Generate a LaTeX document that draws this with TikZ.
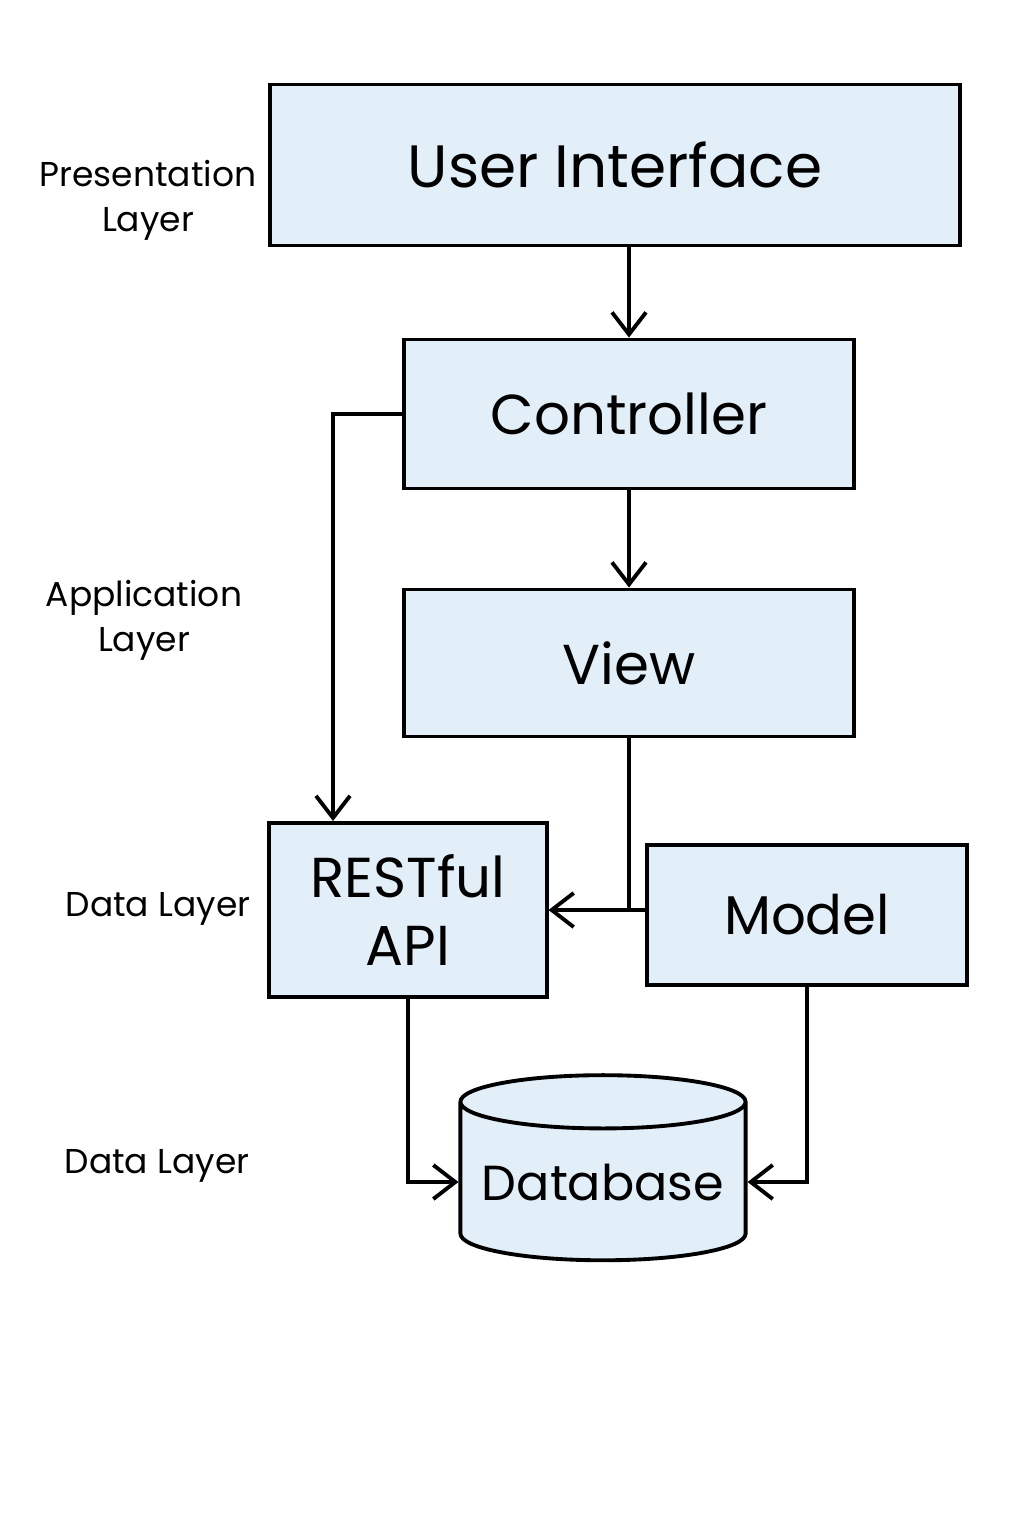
\documentclass[tikz,border=0pt]{standalone}
\usepackage{fontspec}
\setmainfont{Poppins}
\usepackage{tikz}
\definecolor{blue050}{HTML}{E2EEF8}
\usetikzlibrary{arrows.meta,shapes.geometric}
\tikzstyle{caixa}=[rectangle, draw=black, fill=blue050, line width=1.1pt, font=\fontsize{16}{19.5}\selectfont, align=center]
\tikzstyle{cilindro}=[cylinder, shape border rotate=90, aspect=0.22, draw=black, fill=blue050, line width=1.1pt, inner xsep=0pt, font=\fontsize{14}{17}\selectfont]
\tikzstyle{camada}=[font=\fontsize{9.8}{12.8}\selectfont, align=center]
\tikzstyle{seta}=[-{Straight Barb[length=2.2mm,width=3.4mm]}]

\begin{document}
\begin{tikzpicture}[x=0.01cm, y=-0.01cm, line width=1.1pt]
			\useasboundingbox (0,0) rectangle (1024,1536);
			\node[caixa, minimum width=6.9cm, minimum height=1.61cm, font=\fontsize{17}{20}\selectfont] (ui) at (615,165) {User Interface};
			\node[caixa, minimum width=4.5cm, minimum height=1.49cm] (ctrl) at (629,414) {Controller};
			\node[caixa, minimum width=4.5cm, minimum height=1.47cm] (view) at (629,663) {View};
			\node[caixa, minimum width=2.77cm, minimum height=1.74cm] (api) at (408,910) {RESTful\\API};
			\node[caixa, minimum width=3.2cm, minimum height=1.40cm, font=\fontsize{15.5}{19}\selectfont] (model) at (807,915) {Model};
			\node[cilindro, minimum width=2.85cm, minimum height=1.85cm] (db) at (603,1182) {Database};
			\node[camada] (pres) at (148,200) {Presentation\\Layer};
			\node[camada] (app) at (144,620) {Application\\Layer};
			\node[camada] (dados1) at (158,909) {Data Layer};
			\node[camada] (dados2) at (157,1166) {Data Layer};
			\coordinate (desvio) at (333,414);
			\path[draw=black, seta] (ui.south -| ctrl.north) -- (ctrl.north);
			\path[draw=black, seta] (ctrl.south) -- (view.north);
			\path[draw=black, seta] (ctrl.west) -- (desvio) -- (desvio |- api.north);
			\path[draw=black] (view.south) -- (view.south |- api.east);
			\path[draw=black, seta] (model.west |- api.east) -- (api.east);
			\path[draw=black, seta] (api.south) -- (api.south |- db.west) -- (db.west);
			\path[draw=black, seta] (model.south) -- (model.south |- db.east) -- (db.east);
		\end{tikzpicture}
\end{document}
